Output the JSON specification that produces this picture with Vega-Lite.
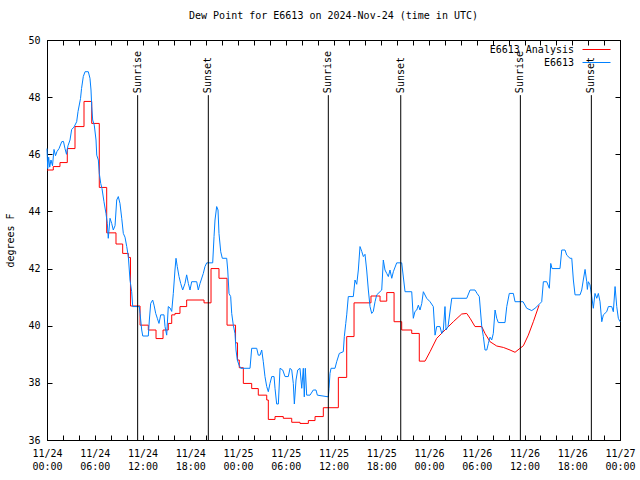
{
  "$schema": "https://vega.github.io/schema/vega-lite/v6.json",
  "width": 573,
  "height": 400,
  "autosize": "none",
  "padding": {"left": 47, "top": 40, "right": 20, "bottom": 40},
  "background": "white",
  "title": {"text": "Dew Point for E6613 on 2024-Nov-24 (time in UTC)", "font": "DejaVu Sans Mono", "fontSize": 10, "fontWeight": "normal", "offset": 14, "anchor": "middle", "color": "black"},
  "config": {
    "view": {"stroke": "black", "strokeWidth": 1},
    "axis": {"domainColor": "black", "tickColor": "black", "labelColor": "black", "titleColor": "black", "labelFont": "DejaVu Sans Mono", "titleFont": "DejaVu Sans Mono", "labelFontSize": 10, "titleFontSize": 10, "titleFontWeight": "normal", "grid": false, "labelOverlap": false, "labelFlush": false},
    "legend": {"title": null, "symbolType": "stroke", "symbolSize": 784, "symbolStrokeWidth": 1, "symbolOpacity": 1, "symbolFillColor": "transparent", "labelAlign": "right", "labelOffset": -37, "labelFont": "DejaVu Sans Mono", "labelFontSize": 10, "labelColor": "black"}
  },
  "datasets": {
    "analysis": [
      {"hour": 0, "dewpoint": 45.45, "series": "E6613 Analysis"},
      {"hour": 0.79, "dewpoint": 45.57, "series": "E6613 Analysis"},
      {"hour": 1.63, "dewpoint": 45.71, "series": "E6613 Analysis"},
      {"hour": 2.55, "dewpoint": 46.2, "series": "E6613 Analysis"},
      {"hour": 3.52, "dewpoint": 46.97, "series": "E6613 Analysis"},
      {"hour": 4.65, "dewpoint": 47.85, "series": "E6613 Analysis"},
      {"hour": 5.62, "dewpoint": 47.08, "series": "E6613 Analysis"},
      {"hour": 6.57, "dewpoint": 44.84, "series": "E6613 Analysis"},
      {"hour": 7.5, "dewpoint": 43.25, "series": "E6613 Analysis"},
      {"hour": 8.67, "dewpoint": 42.86, "series": "E6613 Analysis"},
      {"hour": 9.51, "dewpoint": 42.53, "series": "E6613 Analysis"},
      {"hour": 10.22, "dewpoint": 42.39, "series": "E6613 Analysis"},
      {"hour": 10.49, "dewpoint": 40.69, "series": "E6613 Analysis"},
      {"hour": 11.69, "dewpoint": 40.02, "series": "E6613 Analysis"},
      {"hour": 12.73, "dewpoint": 39.85, "series": "E6613 Analysis"},
      {"hour": 13.7, "dewpoint": 39.55, "series": "E6613 Analysis"},
      {"hour": 14.58, "dewpoint": 39.85, "series": "E6613 Analysis"},
      {"hour": 15.24, "dewpoint": 40.08, "series": "E6613 Analysis"},
      {"hour": 15.67, "dewpoint": 40.38, "series": "E6613 Analysis"},
      {"hour": 16.08, "dewpoint": 40.43, "series": "E6613 Analysis"},
      {"hour": 16.71, "dewpoint": 40.67, "series": "E6613 Analysis"},
      {"hour": 17.55, "dewpoint": 40.9, "series": "E6613 Analysis"},
      {"hour": 19.73, "dewpoint": 40.8, "series": "E6613 Analysis"},
      {"hour": 20.61, "dewpoint": 42.0, "series": "E6613 Analysis"},
      {"hour": 21.61, "dewpoint": 41.66, "series": "E6613 Analysis"},
      {"hour": 22.62, "dewpoint": 40.02, "series": "E6613 Analysis"},
      {"hour": 23.69, "dewpoint": 39.4, "series": "E6613 Analysis"},
      {"hour": 23.94, "dewpoint": 38.8, "series": "E6613 Analysis"},
      {"hour": 24.16, "dewpoint": 38.53, "series": "E6613 Analysis"},
      {"hour": 24.67, "dewpoint": 37.98, "series": "E6613 Analysis"},
      {"hour": 25.72, "dewpoint": 37.8, "series": "E6613 Analysis"},
      {"hour": 26.55, "dewpoint": 37.57, "series": "E6613 Analysis"},
      {"hour": 27.61, "dewpoint": 37.4, "series": "E6613 Analysis"},
      {"hour": 27.81, "dewpoint": 36.72, "series": "E6613 Analysis"},
      {"hour": 28.65, "dewpoint": 36.82, "series": "E6613 Analysis"},
      {"hour": 29.69, "dewpoint": 36.76, "series": "E6613 Analysis"},
      {"hour": 30.75, "dewpoint": 36.62, "series": "E6613 Analysis"},
      {"hour": 31.79, "dewpoint": 36.58, "series": "E6613 Analysis"},
      {"hour": 32.84, "dewpoint": 36.68, "series": "E6613 Analysis"},
      {"hour": 33.68, "dewpoint": 36.82, "series": "E6613 Analysis"},
      {"hour": 34.72, "dewpoint": 37.13, "series": "E6613 Analysis"},
      {"hour": 36.61, "dewpoint": 38.19, "series": "E6613 Analysis"},
      {"hour": 37.66, "dewpoint": 39.62, "series": "E6613 Analysis"},
      {"hour": 38.58, "dewpoint": 40.8, "series": "E6613 Analysis"},
      {"hour": 40.71, "dewpoint": 41.04, "series": "E6613 Analysis"},
      {"hour": 41.85, "dewpoint": 40.86, "series": "E6613 Analysis"},
      {"hour": 42.69, "dewpoint": 41.16, "series": "E6613 Analysis"},
      {"hour": 43.61, "dewpoint": 40.14, "series": "E6613 Analysis"},
      {"hour": 44.57, "dewpoint": 39.85, "series": "E6613 Analysis"},
      {"hour": 45.83, "dewpoint": 39.73, "series": "E6613 Analysis"},
      {"hour": 46.78, "dewpoint": 38.76, "series": "E6613 Analysis"},
      {"hour": 47.5, "dewpoint": 38.76, "series": "E6613 Analysis"},
      {"hour": 48.13, "dewpoint": 39.09, "series": "E6613 Analysis"},
      {"hour": 48.97, "dewpoint": 39.56, "series": "E6613 Analysis"},
      {"hour": 50.01, "dewpoint": 39.85, "series": "E6613 Analysis"},
      {"hour": 51.06, "dewpoint": 40.14, "series": "E6613 Analysis"},
      {"hour": 52.11, "dewpoint": 40.41, "series": "E6613 Analysis"},
      {"hour": 52.74, "dewpoint": 40.43, "series": "E6613 Analysis"},
      {"hour": 53.16, "dewpoint": 40.26, "series": "E6613 Analysis"},
      {"hour": 53.78, "dewpoint": 39.97, "series": "E6613 Analysis"},
      {"hour": 54.63, "dewpoint": 39.97, "series": "E6613 Analysis"},
      {"hour": 55.04, "dewpoint": 39.73, "series": "E6613 Analysis"},
      {"hour": 55.67, "dewpoint": 39.44, "series": "E6613 Analysis"},
      {"hour": 56.51, "dewpoint": 39.29, "series": "E6613 Analysis"},
      {"hour": 57.34, "dewpoint": 39.24, "series": "E6613 Analysis"},
      {"hour": 58.18, "dewpoint": 39.15, "series": "E6613 Analysis"},
      {"hour": 58.81, "dewpoint": 39.07, "series": "E6613 Analysis"},
      {"hour": 59.44, "dewpoint": 39.21, "series": "E6613 Analysis"},
      {"hour": 59.86, "dewpoint": 39.3, "series": "E6613 Analysis"},
      {"hour": 60.48, "dewpoint": 39.67, "series": "E6613 Analysis"},
      {"hour": 61.11, "dewpoint": 40.14, "series": "E6613 Analysis"},
      {"hour": 61.83, "dewpoint": 40.72, "series": "E6613 Analysis"}
    ],
    "obs": [
      {"hour": 0, "dewpoint": 46.2, "series": "E6613"},
      {"hour": 0.09, "dewpoint": 45.5, "series": "E6613"},
      {"hour": 0.21, "dewpoint": 45.9, "series": "E6613"},
      {"hour": 0.34, "dewpoint": 45.55, "series": "E6613"},
      {"hour": 0.5, "dewpoint": 45.8, "series": "E6613"},
      {"hour": 0.69, "dewpoint": 45.6, "series": "E6613"},
      {"hour": 0.88, "dewpoint": 46.17, "series": "E6613"},
      {"hour": 1.07, "dewpoint": 45.95, "series": "E6613"},
      {"hour": 1.26, "dewpoint": 46.1, "series": "E6613"},
      {"hour": 1.51, "dewpoint": 46.2, "series": "E6613"},
      {"hour": 1.85, "dewpoint": 46.44, "series": "E6613"},
      {"hour": 2.07, "dewpoint": 46.45, "series": "E6613"},
      {"hour": 2.26, "dewpoint": 46.2, "series": "E6613"},
      {"hour": 2.45, "dewpoint": 46.0, "series": "E6613"},
      {"hour": 2.64, "dewpoint": 46.3, "series": "E6613"},
      {"hour": 2.89, "dewpoint": 46.5, "series": "E6613"},
      {"hour": 3.1, "dewpoint": 46.87, "series": "E6613"},
      {"hour": 3.39, "dewpoint": 46.95, "series": "E6613"},
      {"hour": 3.73, "dewpoint": 47.14, "series": "E6613"},
      {"hour": 3.9, "dewpoint": 47.5, "series": "E6613"},
      {"hour": 4.21, "dewpoint": 47.95, "series": "E6613"},
      {"hour": 4.34, "dewpoint": 48.3, "series": "E6613"},
      {"hour": 4.56, "dewpoint": 48.72, "series": "E6613"},
      {"hour": 4.78, "dewpoint": 48.89, "series": "E6613"},
      {"hour": 5.19, "dewpoint": 48.89, "series": "E6613"},
      {"hour": 5.4, "dewpoint": 48.66, "series": "E6613"},
      {"hour": 5.53, "dewpoint": 48.25, "series": "E6613"},
      {"hour": 5.62, "dewpoint": 47.67, "series": "E6613"},
      {"hour": 5.74, "dewpoint": 47.2, "series": "E6613"},
      {"hour": 5.94, "dewpoint": 47.02, "series": "E6613"},
      {"hour": 6.16, "dewpoint": 46.5, "series": "E6613"},
      {"hour": 6.25, "dewpoint": 45.97, "series": "E6613"},
      {"hour": 6.45, "dewpoint": 45.8, "series": "E6613"},
      {"hour": 6.57, "dewpoint": 45.33, "series": "E6613"},
      {"hour": 6.75, "dewpoint": 44.98, "series": "E6613"},
      {"hour": 6.91, "dewpoint": 44.8, "series": "E6613"},
      {"hour": 7.16, "dewpoint": 44.34, "series": "E6613"},
      {"hour": 7.41, "dewpoint": 43.93, "series": "E6613"},
      {"hour": 7.58, "dewpoint": 43.58, "series": "E6613"},
      {"hour": 7.7, "dewpoint": 43.06, "series": "E6613"},
      {"hour": 7.92, "dewpoint": 43.76, "series": "E6613"},
      {"hour": 8.13, "dewpoint": 43.58, "series": "E6613"},
      {"hour": 8.33, "dewpoint": 43.35, "series": "E6613"},
      {"hour": 8.55, "dewpoint": 43.5, "series": "E6613"},
      {"hour": 8.76, "dewpoint": 44.4, "series": "E6613"},
      {"hour": 8.96, "dewpoint": 44.52, "series": "E6613"},
      {"hour": 9.17, "dewpoint": 44.28, "series": "E6613"},
      {"hour": 9.39, "dewpoint": 43.76, "series": "E6613"},
      {"hour": 9.59, "dewpoint": 43.23, "series": "E6613"},
      {"hour": 9.8, "dewpoint": 43.1, "series": "E6613"},
      {"hour": 10.02, "dewpoint": 42.77, "series": "E6613"},
      {"hour": 10.22, "dewpoint": 42.42, "series": "E6613"},
      {"hour": 10.43, "dewpoint": 41.6, "series": "E6613"},
      {"hour": 10.64, "dewpoint": 41.19, "series": "E6613"},
      {"hour": 10.77, "dewpoint": 40.67, "series": "E6613"},
      {"hour": 11.6, "dewpoint": 40.67, "series": "E6613"},
      {"hour": 11.69, "dewpoint": 40.43, "series": "E6613"},
      {"hour": 11.9, "dewpoint": 39.85, "series": "E6613"},
      {"hour": 12.03, "dewpoint": 39.64, "series": "E6613"},
      {"hour": 12.73, "dewpoint": 39.64, "series": "E6613"},
      {"hour": 12.86, "dewpoint": 40.2, "series": "E6613"},
      {"hour": 13.03, "dewpoint": 40.78, "series": "E6613"},
      {"hour": 13.28, "dewpoint": 40.9, "series": "E6613"},
      {"hour": 13.45, "dewpoint": 40.72, "series": "E6613"},
      {"hour": 13.66, "dewpoint": 40.43, "series": "E6613"},
      {"hour": 13.86, "dewpoint": 40.26, "series": "E6613"},
      {"hour": 14.07, "dewpoint": 40.08, "series": "E6613"},
      {"hour": 14.29, "dewpoint": 40.38, "series": "E6613"},
      {"hour": 14.7, "dewpoint": 40.38, "series": "E6613"},
      {"hour": 14.83, "dewpoint": 39.97, "series": "E6613"},
      {"hour": 15.04, "dewpoint": 39.67, "series": "E6613"},
      {"hour": 15.24, "dewpoint": 40.67, "series": "E6613"},
      {"hour": 15.46, "dewpoint": 40.62, "series": "E6613"},
      {"hour": 15.67, "dewpoint": 40.5, "series": "E6613"},
      {"hour": 15.87, "dewpoint": 41.13, "series": "E6613"},
      {"hour": 16.08, "dewpoint": 41.95, "series": "E6613"},
      {"hour": 16.21, "dewpoint": 42.36, "series": "E6613"},
      {"hour": 16.37, "dewpoint": 42.07, "series": "E6613"},
      {"hour": 16.59, "dewpoint": 41.72, "series": "E6613"},
      {"hour": 16.8, "dewpoint": 41.48, "series": "E6613"},
      {"hour": 17.05, "dewpoint": 41.25, "series": "E6613"},
      {"hour": 17.34, "dewpoint": 41.48, "series": "E6613"},
      {"hour": 17.55, "dewpoint": 41.78, "series": "E6613"},
      {"hour": 17.76, "dewpoint": 41.48, "series": "E6613"},
      {"hour": 17.97, "dewpoint": 41.25, "series": "E6613"},
      {"hour": 18.18, "dewpoint": 41.54, "series": "E6613"},
      {"hour": 18.81, "dewpoint": 41.54, "series": "E6613"},
      {"hour": 19.01, "dewpoint": 41.25, "series": "E6613"},
      {"hour": 19.23, "dewpoint": 41.48, "series": "E6613"},
      {"hour": 19.64, "dewpoint": 41.83, "series": "E6613"},
      {"hour": 19.85, "dewpoint": 42.07, "series": "E6613"},
      {"hour": 20.07, "dewpoint": 42.2, "series": "E6613"},
      {"hour": 20.82, "dewpoint": 42.2, "series": "E6613"},
      {"hour": 20.99, "dewpoint": 43.12, "series": "E6613"},
      {"hour": 21.11, "dewpoint": 43.7, "series": "E6613"},
      {"hour": 21.32, "dewpoint": 44.17, "series": "E6613"},
      {"hour": 21.49, "dewpoint": 44.05, "series": "E6613"},
      {"hour": 21.61, "dewpoint": 43.23, "series": "E6613"},
      {"hour": 21.83, "dewpoint": 42.59, "series": "E6613"},
      {"hour": 22.03, "dewpoint": 42.36, "series": "E6613"},
      {"hour": 22.58, "dewpoint": 42.36, "series": "E6613"},
      {"hour": 22.71, "dewpoint": 41.95, "series": "E6613"},
      {"hour": 22.87, "dewpoint": 41.13, "series": "E6613"},
      {"hour": 23.08, "dewpoint": 41.02, "series": "E6613"},
      {"hour": 23.21, "dewpoint": 40.43, "series": "E6613"},
      {"hour": 23.41, "dewpoint": 40.02, "series": "E6613"},
      {"hour": 23.62, "dewpoint": 39.73, "series": "E6613"},
      {"hour": 23.75, "dewpoint": 39.15, "series": "E6613"},
      {"hour": 23.91, "dewpoint": 38.8, "series": "E6613"},
      {"hour": 24.13, "dewpoint": 38.62, "series": "E6613"},
      {"hour": 24.34, "dewpoint": 38.51, "series": "E6613"},
      {"hour": 25.51, "dewpoint": 38.51, "series": "E6613"},
      {"hour": 25.72, "dewpoint": 39.21, "series": "E6613"},
      {"hour": 26.35, "dewpoint": 39.21, "series": "E6613"},
      {"hour": 26.55, "dewpoint": 38.97, "series": "E6613"},
      {"hour": 26.77, "dewpoint": 38.97, "series": "E6613"},
      {"hour": 26.98, "dewpoint": 39.15, "series": "E6613"},
      {"hour": 27.18, "dewpoint": 38.74, "series": "E6613"},
      {"hour": 27.39, "dewpoint": 38.22, "series": "E6613"},
      {"hour": 27.61, "dewpoint": 37.87, "series": "E6613"},
      {"hour": 27.81, "dewpoint": 37.69, "series": "E6613"},
      {"hour": 28.02, "dewpoint": 37.98, "series": "E6613"},
      {"hour": 28.24, "dewpoint": 38.22, "series": "E6613"},
      {"hour": 28.53, "dewpoint": 38.22, "series": "E6613"},
      {"hour": 28.65, "dewpoint": 37.81, "series": "E6613"},
      {"hour": 28.86, "dewpoint": 37.26, "series": "E6613"},
      {"hour": 29.07, "dewpoint": 37.26, "series": "E6613"},
      {"hour": 29.28, "dewpoint": 38.51, "series": "E6613"},
      {"hour": 29.62, "dewpoint": 38.45, "series": "E6613"},
      {"hour": 29.91, "dewpoint": 38.22, "series": "E6613"},
      {"hour": 30.32, "dewpoint": 38.22, "series": "E6613"},
      {"hour": 30.54, "dewpoint": 38.51, "series": "E6613"},
      {"hour": 30.75, "dewpoint": 38.45, "series": "E6613"},
      {"hour": 30.95, "dewpoint": 37.98, "series": "E6613"},
      {"hour": 31.08, "dewpoint": 37.26, "series": "E6613"},
      {"hour": 31.29, "dewpoint": 38.1, "series": "E6613"},
      {"hour": 31.5, "dewpoint": 38.45, "series": "E6613"},
      {"hour": 31.79, "dewpoint": 38.51, "series": "E6613"},
      {"hour": 32.01, "dewpoint": 37.81, "series": "E6613"},
      {"hour": 32.21, "dewpoint": 38.51, "series": "E6613"},
      {"hour": 32.33, "dewpoint": 37.51, "series": "E6613"},
      {"hour": 32.46, "dewpoint": 38.51, "series": "E6613"},
      {"hour": 32.63, "dewpoint": 37.57, "series": "E6613"},
      {"hour": 33.05, "dewpoint": 37.57, "series": "E6613"},
      {"hour": 33.46, "dewpoint": 37.75, "series": "E6613"},
      {"hour": 33.8, "dewpoint": 37.75, "series": "E6613"},
      {"hour": 33.97, "dewpoint": 37.57, "series": "E6613"},
      {"hour": 35.35, "dewpoint": 37.51, "series": "E6613"},
      {"hour": 35.44, "dewpoint": 37.81, "series": "E6613"},
      {"hour": 35.56, "dewpoint": 38.33, "series": "E6613"},
      {"hour": 35.69, "dewpoint": 38.51, "series": "E6613"},
      {"hour": 36.19, "dewpoint": 38.51, "series": "E6613"},
      {"hour": 36.4, "dewpoint": 38.74, "series": "E6613"},
      {"hour": 36.73, "dewpoint": 39.03, "series": "E6613"},
      {"hour": 37.23, "dewpoint": 39.09, "series": "E6613"},
      {"hour": 37.36, "dewpoint": 39.62, "series": "E6613"},
      {"hour": 37.54, "dewpoint": 40.08, "series": "E6613"},
      {"hour": 37.66, "dewpoint": 40.38, "series": "E6613"},
      {"hour": 37.86, "dewpoint": 41.02, "series": "E6613"},
      {"hour": 38.49, "dewpoint": 41.02, "series": "E6613"},
      {"hour": 38.7, "dewpoint": 41.6, "series": "E6613"},
      {"hour": 38.92, "dewpoint": 41.45, "series": "E6613"},
      {"hour": 39.12, "dewpoint": 41.95, "series": "E6613"},
      {"hour": 39.33, "dewpoint": 42.77, "series": "E6613"},
      {"hour": 39.55, "dewpoint": 42.6, "series": "E6613"},
      {"hour": 39.75, "dewpoint": 42.42, "series": "E6613"},
      {"hour": 39.96, "dewpoint": 42.5, "series": "E6613"},
      {"hour": 40.17, "dewpoint": 41.95, "series": "E6613"},
      {"hour": 40.38, "dewpoint": 41.25, "series": "E6613"},
      {"hour": 40.59, "dewpoint": 40.67, "series": "E6613"},
      {"hour": 40.8, "dewpoint": 40.43, "series": "E6613"},
      {"hour": 41.0, "dewpoint": 40.5, "series": "E6613"},
      {"hour": 41.22, "dewpoint": 40.84, "series": "E6613"},
      {"hour": 41.43, "dewpoint": 41.08, "series": "E6613"},
      {"hour": 42.06, "dewpoint": 41.25, "series": "E6613"},
      {"hour": 42.26, "dewpoint": 42.3, "series": "E6613"},
      {"hour": 42.47, "dewpoint": 41.95, "series": "E6613"},
      {"hour": 42.69, "dewpoint": 41.83, "series": "E6613"},
      {"hour": 42.89, "dewpoint": 41.72, "series": "E6613"},
      {"hour": 43.1, "dewpoint": 41.95, "series": "E6613"},
      {"hour": 43.32, "dewpoint": 41.66, "series": "E6613"},
      {"hour": 43.52, "dewpoint": 41.89, "series": "E6613"},
      {"hour": 43.94, "dewpoint": 42.2, "series": "E6613"},
      {"hour": 44.57, "dewpoint": 42.2, "series": "E6613"},
      {"hour": 44.99, "dewpoint": 41.19, "series": "E6613"},
      {"hour": 45.83, "dewpoint": 41.19, "series": "E6613"},
      {"hour": 46.03, "dewpoint": 40.26, "series": "E6613"},
      {"hour": 46.24, "dewpoint": 40.5, "series": "E6613"},
      {"hour": 46.46, "dewpoint": 40.55, "series": "E6613"},
      {"hour": 46.66, "dewpoint": 40.72, "series": "E6613"},
      {"hour": 46.87, "dewpoint": 40.55, "series": "E6613"},
      {"hour": 47.09, "dewpoint": 40.78, "series": "E6613"},
      {"hour": 47.29, "dewpoint": 41.19, "series": "E6613"},
      {"hour": 47.71, "dewpoint": 40.96, "series": "E6613"},
      {"hour": 48.13, "dewpoint": 40.84, "series": "E6613"},
      {"hour": 48.54, "dewpoint": 40.67, "series": "E6613"},
      {"hour": 48.76, "dewpoint": 39.67, "series": "E6613"},
      {"hour": 48.97, "dewpoint": 39.97, "series": "E6613"},
      {"hour": 49.38, "dewpoint": 39.97, "series": "E6613"},
      {"hour": 49.6, "dewpoint": 39.73, "series": "E6613"},
      {"hour": 49.8, "dewpoint": 39.85, "series": "E6613"},
      {"hour": 50.01, "dewpoint": 40.67, "series": "E6613"},
      {"hour": 50.14, "dewpoint": 39.85, "series": "E6613"},
      {"hour": 50.39, "dewpoint": 39.97, "series": "E6613"},
      {"hour": 50.86, "dewpoint": 40.96, "series": "E6613"},
      {"hour": 52.74, "dewpoint": 40.96, "series": "E6613"},
      {"hour": 53.16, "dewpoint": 41.25, "series": "E6613"},
      {"hour": 53.78, "dewpoint": 41.25, "series": "E6613"},
      {"hour": 54.04, "dewpoint": 41.13, "series": "E6613"},
      {"hour": 54.32, "dewpoint": 41.02, "series": "E6613"},
      {"hour": 54.63, "dewpoint": 39.97, "series": "E6613"},
      {"hour": 54.83, "dewpoint": 39.62, "series": "E6613"},
      {"hour": 55.04, "dewpoint": 39.15, "series": "E6613"},
      {"hour": 55.26, "dewpoint": 39.15, "series": "E6613"},
      {"hour": 55.46, "dewpoint": 39.38, "series": "E6613"},
      {"hour": 55.67, "dewpoint": 39.6, "series": "E6613"},
      {"hour": 55.88, "dewpoint": 39.5, "series": "E6613"},
      {"hour": 56.08, "dewpoint": 39.73, "series": "E6613"},
      {"hour": 56.3, "dewpoint": 40.55, "series": "E6613"},
      {"hour": 56.51, "dewpoint": 40.26, "series": "E6613"},
      {"hour": 56.71, "dewpoint": 40.11, "series": "E6613"},
      {"hour": 57.55, "dewpoint": 40.11, "series": "E6613"},
      {"hour": 57.77, "dewpoint": 40.67, "series": "E6613"},
      {"hour": 58.09, "dewpoint": 41.13, "series": "E6613"},
      {"hour": 58.6, "dewpoint": 41.13, "series": "E6613"},
      {"hour": 58.81, "dewpoint": 40.84, "series": "E6613"},
      {"hour": 59.82, "dewpoint": 40.84, "series": "E6613"},
      {"hour": 60.28, "dewpoint": 40.61, "series": "E6613"},
      {"hour": 60.91, "dewpoint": 40.53, "series": "E6613"},
      {"hour": 61.32, "dewpoint": 40.61, "series": "E6613"},
      {"hour": 61.74, "dewpoint": 40.72, "series": "E6613"},
      {"hour": 62.16, "dewpoint": 40.84, "series": "E6613"},
      {"hour": 62.37, "dewpoint": 41.54, "series": "E6613"},
      {"hour": 62.79, "dewpoint": 41.54, "series": "E6613"},
      {"hour": 63.12, "dewpoint": 41.31, "series": "E6613"},
      {"hour": 63.3, "dewpoint": 42.18, "series": "E6613"},
      {"hour": 63.46, "dewpoint": 42.0, "series": "E6613"},
      {"hour": 64.46, "dewpoint": 42.0, "series": "E6613"},
      {"hour": 64.68, "dewpoint": 42.65, "series": "E6613"},
      {"hour": 65.09, "dewpoint": 42.65, "series": "E6613"},
      {"hour": 65.31, "dewpoint": 42.47, "series": "E6613"},
      {"hour": 65.72, "dewpoint": 42.36, "series": "E6613"},
      {"hour": 65.94, "dewpoint": 42.36, "series": "E6613"},
      {"hour": 66.14, "dewpoint": 41.6, "series": "E6613"},
      {"hour": 66.35, "dewpoint": 41.08, "series": "E6613"},
      {"hour": 66.98, "dewpoint": 41.08, "series": "E6613"},
      {"hour": 67.19, "dewpoint": 41.25, "series": "E6613"},
      {"hour": 67.39, "dewpoint": 41.6, "series": "E6613"},
      {"hour": 67.61, "dewpoint": 41.97, "series": "E6613"},
      {"hour": 67.82, "dewpoint": 41.54, "series": "E6613"},
      {"hour": 67.9, "dewpoint": 41.27, "series": "E6613"},
      {"hour": 68.02, "dewpoint": 41.54, "series": "E6613"},
      {"hour": 68.23, "dewpoint": 41.43, "series": "E6613"},
      {"hour": 68.45, "dewpoint": 41.02, "series": "E6613"},
      {"hour": 68.65, "dewpoint": 40.61, "series": "E6613"},
      {"hour": 68.86, "dewpoint": 41.13, "series": "E6613"},
      {"hour": 69.08, "dewpoint": 40.96, "series": "E6613"},
      {"hour": 69.28, "dewpoint": 41.13, "series": "E6613"},
      {"hour": 69.49, "dewpoint": 40.84, "series": "E6613"},
      {"hour": 69.71, "dewpoint": 40.14, "series": "E6613"},
      {"hour": 69.91, "dewpoint": 40.38, "series": "E6613"},
      {"hour": 70.33, "dewpoint": 40.49, "series": "E6613"},
      {"hour": 70.54, "dewpoint": 40.67, "series": "E6613"},
      {"hour": 70.96, "dewpoint": 40.67, "series": "E6613"},
      {"hour": 71.16, "dewpoint": 40.49, "series": "E6613"},
      {"hour": 71.38, "dewpoint": 41.37, "series": "E6613"},
      {"hour": 71.59, "dewpoint": 40.67, "series": "E6613"},
      {"hour": 71.79, "dewpoint": 40.26, "series": "E6613"},
      {"hour": 72.0, "dewpoint": 40.14, "series": "E6613"}
    ],
    "sun": [
      {"hour": 11.39, "event": "Sunrise"},
      {"hour": 20.27, "event": "Sunset"},
      {"hour": 35.35, "event": "Sunrise"},
      {"hour": 44.45, "event": "Sunset"},
      {"hour": 59.48, "event": "Sunrise"},
      {"hour": 68.4, "event": "Sunset"}
    ]
  },
  "resolve": {"axis": {"x": "independent", "y": "independent"}, "scale": {"color": "independent", "stroke": "independent"}, "legend": {"color": "independent", "stroke": "independent"}},
  "layer": [
    {
      "data": {"name": "analysis"},
      "transform": [{"filter": "datum.hour <= 47.5"}],
      "mark": {"type": "line", "interpolate": "step-after", "strokeWidth": 1, "stroke": "#ff0000"},
      "encoding": {
        "x": {"field": "hour", "type": "quantitative", "scale": {"domain": [0, 72], "nice": false, "zero": false},
          "axis": {"orient": "bottom", "title": null, "values": [0,2,4,6,8,10,12,14,16,18,20,22,24,26,28,30,32,34,36,38,40,42,44,46,48,50,52,54,56,58,60,62,64,66,68,70,72],
            "labelExpr": "datum.value % 6 == 0 ? ['11/' + (24 + floor(datum.value / 24)), (datum.value % 24 < 10 ? '0' : '') + (datum.value % 24) + ':00'] : ''",
            "tickSize": -5, "labelPadding": 13, "labelLineHeight": 13, "labelBaseline": "top"}},
        "y": {"field": "dewpoint", "type": "quantitative", "scale": {"domain": [36, 50], "nice": false, "zero": false},
          "axis": {"orient": "left", "title": "degrees F", "values": [36,38,40,42,44,46,48,50], "tickSize": -5, "labelPadding": 12, "titlePadding": 12}}
      }
    },
    {
      "data": {"name": "analysis"},
      "transform": [{"filter": "datum.hour >= 47.5"}],
      "mark": {"type": "line", "strokeWidth": 1},
      "encoding": {
        "x": {"field": "hour", "type": "quantitative", "axis": {"orient": "top", "title": null, "labels": false, "values": [0,2,4,6,8,10,12,14,16,18,20,22,24,26,28,30,32,34,36,38,40,42,44,46,48,50,52,54,56,58,60,62,64,66,68,70,72], "tickSize": -5}},
        "y": {"field": "dewpoint", "type": "quantitative", "axis": {"orient": "right", "title": null, "labels": false, "values": [36,38,40,42,44,46,48,50], "tickSize": -5}},
        "stroke": {"field": "series", "type": "nominal", "scale": {"domain": ["E6613 Analysis"], "range": ["#ff0000"]},
          "legend": {"orient": "none", "legendX": 535, "legendY": -5, "symbolStrokeColor": "#ff0000"}}
      }
    },
    {
      "data": {"name": "obs"},
      "mark": {"type": "line", "strokeWidth": 1},
      "encoding": {
        "x": {"field": "hour", "type": "quantitative", "axis": null},
        "y": {"field": "dewpoint", "type": "quantitative", "axis": null},
        "color": {"field": "series", "type": "nominal", "scale": {"domain": ["E6613"], "range": ["#0080ff"]},
          "legend": {"orient": "none", "legendX": 535, "legendY": 8, "symbolStrokeColor": "#0080ff"}}
      }
    },
    {
      "data": {"name": "sun"},
      "mark": {"type": "rule", "color": "black", "strokeWidth": 1},
      "encoding": {
        "x": {"field": "hour", "type": "quantitative", "axis": null},
        "y": {"datum": 48.07, "type": "quantitative", "axis": null},
        "y2": {"datum": 36}
      }
    },
    {
      "data": {"name": "sun"},
      "mark": {"type": "text", "angle": 270, "align": "left", "baseline": "middle", "font": "DejaVu Sans Mono", "fontSize": 10, "color": "black"},
      "encoding": {
        "x": {"field": "hour", "type": "quantitative", "axis": null},
        "y": {"datum": 48.14, "type": "quantitative", "axis": null},
        "text": {"field": "event"}
      }
    }
  ]
}
